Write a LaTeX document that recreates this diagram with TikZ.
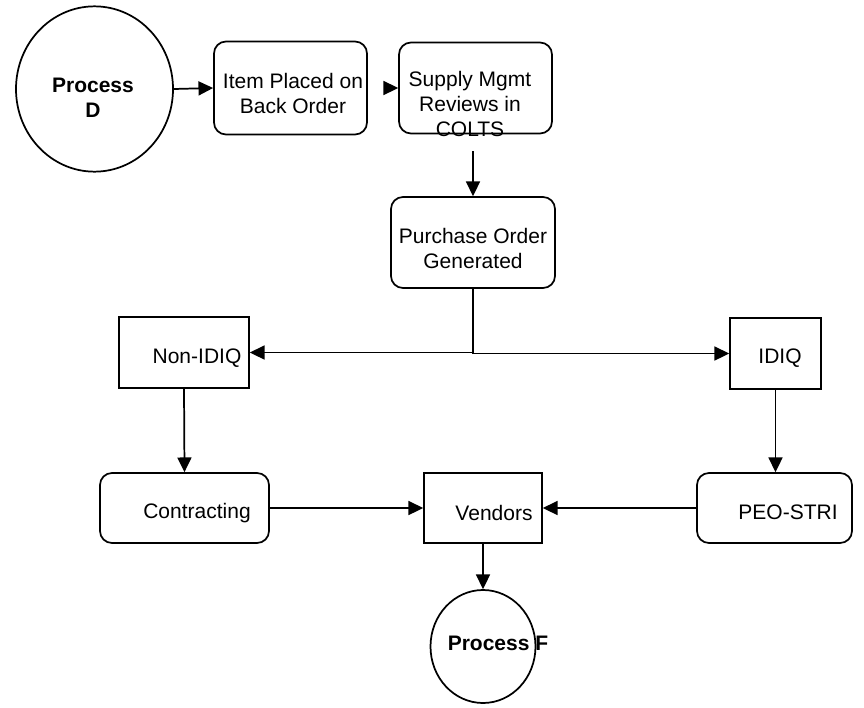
\documentclass[tikz,border=0pt]{standalone}
\usepackage{fontspec}
\setmainfont{Liberation Sans}
\usetikzlibrary{arrows.meta,shapes.geometric}

\tikzset{
  box/.style={draw=black,line width=1.3pt,minimum width=#1,inner sep=0pt},
  rbox/.style={box=#1,rounded corners=9pt},
  proc/.style={shape=ellipse,draw=black,line width=1.3pt,inner sep=0pt},
  txt/.style={font=\fontsize{15.75}{18.75}\selectfont,align=center},
  bold/.style={font=\fontsize{15.75}{18.75}\selectfont\bfseries,align=center},
  arr/.style={-{Triangle[length=11pt,width=10.5pt]},line width=1.3pt}
}

\begin{document}
\begin{tikzpicture}[x=0.75pt,y=-0.75pt]
\useasboundingbox (0,0) rectangle (864,707);

\node[proc,minimum width=117.75pt,minimum height=124pt,label={[bold,shift={(-1.5,9)}]center:Process\\D}] (procD) at (94.5,89) {};
\node[rbox=114.75pt,minimum height=69.75pt,label={[txt,shift={(2.5,5)}]center:Item Placed on\\Back Order}] (item) at (290.5,88) {};
\node[rbox=114.75pt,minimum height=68.25pt,label={[txt,shift={(-5.5,16)}]center:Supply Mgmt\\Reviews in\\COLTS}] (supply) at (475.5,88) {};
\node[rbox=123pt,minimum height=68.25pt,label={[txt,shift={(0,6)}]center:Purchase Order\\Generated}] (purchase) at (473,242.5) {};
\node[box=97.5pt,minimum height=53.25pt,label={[txt,shift={(13,6)}]center:Non-IDIQ}] (nonidiq) at (184,352.5) {};
\node[box=68.25pt,minimum height=53.25pt,label={[txt,shift={(4.5,5)}]center:IDIQ}] (idiq) at (775.5,353.5) {};
\node[rbox=126.75pt,minimum height=52.5pt,label={[txt,shift={(12.5,5)}]center:Contracting}] (contracting) at (184.5,508) {};
\node[box=88.5pt,minimum height=52.5pt,label={[txt,shift={(11,5)}]center:Vendors}] (vendors) at (483,508) {};
\node[rbox=116.25pt,minimum height=52.5pt,label={[txt,shift={(13.5,4)}]center:PEO-STRI}] (peo) at (774.5,508) {};
\node[proc,minimum width=78.75pt,minimum height=84.75pt,label={[bold,shift={(15,-3)}]center:Process F}] (procF) at (483,646.5) {};

\draw[arr] (procD.east) -- (item.west);
\draw[arr,shorten <=12pt] (item.east) -- (supply.west);
\draw[arr,shorten <=12.75pt] (supply.south -| purchase.north) -- (purchase.north);
\draw[arr] (purchase.south) |- (nonidiq.east);
\draw[arr] (purchase.south) |- (idiq.west);
\draw[arr] (nonidiq.south) -- (contracting.north);
\draw[arr] (idiq.south) -- (idiq.south |- peo.north);
\draw[arr] (contracting.east) -- (vendors.west);
\draw[arr] (peo.west) -- (vendors.east);
\draw[arr] (vendors.south) -- (procF.north);
\end{tikzpicture}
\end{document}
